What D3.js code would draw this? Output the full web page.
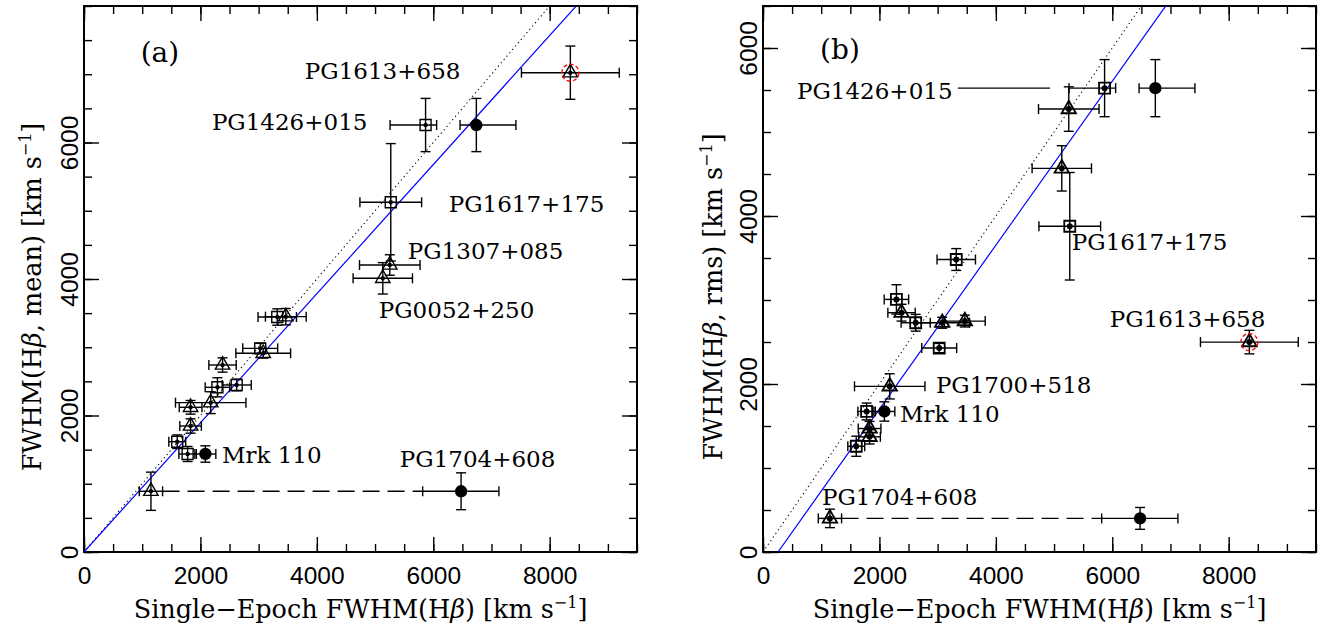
<!DOCTYPE html>
<html>
<head>
<meta charset="utf-8">
<script src="https://cdn.jsdelivr.net/npm/d3@7"></script>
<style>
  body { margin: 0; background: #fff; }
</style>
</head>
<body>
<svg id="chart" width="1324" height="631"></svg>
<script>
// single-epoch FWHM (x, shared by both panels) and its errors
var objX   = [3320, 3467, 3027, 3079, 2380, 2623, 2292, 2177, 1831, 1831, 1602, 1780, 2085, 1150, 6478, 8355, 5868, 6740, 5270, 5253, 5133];
var xErrLo = [330, 350, 300, 470, 235, 250, 210, 605, 195, 185, 145, 150, 180, 200, 660, 840, 610, 280, 530, 520, 510];
var xErrHi = [330, 350, 300, 470, 235, 250, 210, 605, 195, 185, 145, 150, 180, 200, 650, 840, 190, 680, 530, 520, 510];
var kind   = ["sq", "tri", "sq", "tri", "tri", "sq", "sq", "tri", "tri", "tri", "sq", "sq", "dot", "tri", "dot", "tri", "sq", "dot", "sq", "tri", "tri"];

// panel (a): mean spectrum FWHM
var meanY   = [3443, 3448, 2984, 2911, 2740, 2447, 2413, 2188, 2120, 1846, 1616, 1436, 1436, 890, 890, 7023, 6256, 6256, 5124, 4205, 4010];
var meanErr = [120, 120, 75, 70, 105, 85, 140, 160, 100, 105, 100, 110, 120, 280, 270, 390, 390, 390, 860, 150, 230];

// panel (b): rms spectrum FWHM
var rmsY   = [3482, 2749, 2428, 2729, 2849, 2729, 3007, 1972, 1470, 1371, 1259, 1673, 1673, 400, 400, 2499, 5522, 5522, 3878, 5273, 4567];
var rmsErr = [130, 70, 55, 65, 100, 100, 175, 150, 85, 85, 120, 100, 115, 110, 130, 140, 340, 340, 640, 265, 270];

var ringIdx = 15;            // PG1613+658, circled in red
var pairIdx = [13, 14];      // PG1704+608, joined with a dashed line

// labels (left edge x, middle y, in data units)
var labTextA = ["PG1613+658", "PG1426+015", "PG1617+175", "PG1307+085", "PG0052+250", "Mrk 110", "PG1704+608"];
var labXA    = [3794, 2197, 6266, 5562, 5064, 2369, 5425];
var labYA    = [7048, 6300, 5099, 4410, 3546, 1421, 1363];
var labTextB = ["PG1426+015", "PG1617+175", "PG1613+658", "PG1700+518", "Mrk 110", "PG1704+608"];
var labXB    = [584, 5305, 5957, 2970, 2352, 1013];
var labYB    = [5490, 3696, 2781, 1997, 1651, 653];

var xMajor = [0, 2000, 4000, 6000, 8000];
var yMajor = [0, 2000, 4000, 6000];
var xMax = 9500;

var svg = d3.select("#chart");
var serif = "'DejaVu Serif', serif";
var sans = "'Liberation Sans', Arial, sans-serif";

function drawPanel(p) {
  var x = d3.scaleLinear().domain([0, xMax]).range([p.left, p.right]);
  var y = d3.scaleLinear().domain([0, p.yMax]).range([p.bottom, p.top]);
  var g = svg.append("g");

  svg.append("clipPath").attr("id", "clip" + p.id)
    .append("rect")
    .attr("x", p.left).attr("y", p.top)
    .attr("width", p.right - p.left).attr("height", p.bottom - p.top);

  // ---- ticks on all four sides, pointing inwards
  function ticks(axis, tr, vals, n, len) {
    var a = axis.tickSizeInner(-len).tickSizeOuter(0).tickFormat("");
    if (vals) a.tickValues(vals); else a.ticks(n);
    var t = g.append("g").attr("transform", tr).call(a);
    t.select(".domain").remove();
    t.selectAll("line").attr("stroke", "#000").attr("stroke-width", 1.4);
    return t;
  }
  var nx = 19, ny = p.yMax / 500;
  ticks(d3.axisBottom(x), "translate(0," + p.bottom + ")", xMajor, 0, 15);
  ticks(d3.axisBottom(x), "translate(0," + p.bottom + ")", null, nx, 8);
  ticks(d3.axisTop(x), "translate(0," + p.top + ")", xMajor, 0, 15);
  ticks(d3.axisTop(x), "translate(0," + p.top + ")", null, nx, 8);
  ticks(d3.axisLeft(y), "translate(" + p.left + ",0)", yMajor, 0, 15);
  ticks(d3.axisLeft(y), "translate(" + p.left + ",0)", null, ny, 8);
  ticks(d3.axisRight(y), "translate(" + p.right + ",0)", yMajor, 0, 15);
  ticks(d3.axisRight(y), "translate(" + p.right + ",0)", null, ny, 8);

  // tick labels
  var bl = g.append("g").attr("transform", "translate(0," + p.bottom + ")")
    .call(d3.axisBottom(x).tickValues(xMajor).tickSize(0).tickPadding(15).tickFormat(d3.format("d")));
  bl.select(".domain").remove();
  bl.selectAll("text").attr("font-family", sans).attr("font-size", 24.5);

  var ll = g.append("g").attr("transform", "translate(" + p.left + ",0)")
    .call(d3.axisLeft(y).tickValues(yMajor).tickSize(0).tickFormat(d3.format("d")));
  ll.select(".domain").remove();
  ll.selectAll("text")
    .attr("font-family", sans).attr("font-size", 24.5)
    .attr("transform", "rotate(-90)")
    .attr("x", 0).attr("y", -6).attr("dy", 0)
    .attr("text-anchor", "middle");

  // frame
  g.append("rect")
    .attr("x", p.left).attr("y", p.top)
    .attr("width", p.right - p.left).attr("height", p.bottom - p.top)
    .attr("fill", "none").attr("stroke", "#000").attr("stroke-width", 2);

  // ---- reference lines
  var lines = g.append("g").attr("clip-path", "url(#clip" + p.id + ")");
  lines.append("line")
    .attr("x1", x(0)).attr("y1", y(0))
    .attr("x2", x(xMax)).attr("y2", y(xMax))
    .attr("stroke", "#000").attr("stroke-width", 1.1)
    .attr("stroke-dasharray", "1.2,3.2");
  lines.append("line")
    .attr("x1", x(p.fitX0)).attr("y1", y(0))
    .attr("x2", x(xMax)).attr("y2", y(p.fitSlope * (xMax - p.fitX0)))
    .attr("stroke", "#0000ff").attr("stroke-width", 1.2);

  var yv = p.yVals, ye = p.yErr;

  // PG1704+608 dashed connector
  g.append("line")
    .attr("x1", x(objX[pairIdx[0]] + xErrHi[pairIdx[0]])).attr("y1", y(yv[pairIdx[0]]))
    .attr("x2", x(objX[pairIdx[1]] - xErrLo[pairIdx[1]])).attr("y2", y(yv[pairIdx[1]]))
    .attr("stroke", "#000").attr("stroke-width", 1.3)
    .attr("stroke-dasharray", "17,8");

  if (p.leader) {
    g.append("line")
      .attr("x1", x(p.leader[0])).attr("x2", x(p.leader[1]))
      .attr("y1", y(p.leader[2])).attr("y2", y(p.leader[2]))
      .attr("stroke", "#000").attr("stroke-width", 1.3);
  }

  // ---- error bars
  var cap = 5;
  var eb = g.append("g").attr("stroke", "#000").attr("stroke-width", 1.4);
  objX.forEach(function (xv, i) {
    var cx = x(xv), cy = y(yv[i]);
    var xl = x(xv - xErrLo[i]), xr = x(xv + xErrHi[i]);
    var yt = y(yv[i] + ye[i]), yb = y(yv[i] - ye[i]);
    eb.append("line").attr("x1", xl).attr("x2", xr).attr("y1", cy).attr("y2", cy);
    eb.append("line").attr("x1", xl).attr("x2", xl).attr("y1", cy - cap).attr("y2", cy + cap);
    eb.append("line").attr("x1", xr).attr("x2", xr).attr("y1", cy - cap).attr("y2", cy + cap);
    eb.append("line").attr("x1", cx).attr("x2", cx).attr("y1", yt).attr("y2", yb);
    eb.append("line").attr("x1", cx - cap).attr("x2", cx + cap).attr("y1", yt).attr("y2", yt);
    eb.append("line").attr("x1", cx - cap).attr("x2", cx + cap).attr("y1", yb).attr("y2", yb);
  });

  // ---- markers
  var sqSym = d3.symbol(d3.symbolSquare, 121);
  var triSym = d3.symbol(d3.symbolTriangle, 90);
  var dotSym = d3.symbol(d3.symbolCircle, 120);
  var mk = g.append("g");
  objX.forEach(function (xv, i) {
    var tr = "translate(" + x(xv) + "," + y(yv[i]) + ")";
    if (kind[i] === "dot") {
      mk.append("path").attr("d", dotSym()).attr("transform", tr).attr("fill", "#000");
    } else {
      mk.append("path").attr("d", kind[i] === "sq" ? sqSym() : triSym())
        .attr("transform", tr)
        .attr("fill", "none").attr("stroke", "#000").attr("stroke-width", p.mkStroke);
      mk.append("circle").attr("cx", x(xv)).attr("cy", y(yv[i])).attr("r", p.mkDot).attr("fill", "#000");
    }
  });
  mk.append("circle")
    .attr("cx", x(objX[ringIdx])).attr("cy", y(yv[ringIdx])).attr("r", 8.5)
    .attr("fill", "none").attr("stroke", "#ff0000").attr("stroke-width", 1.3)
    .attr("stroke-dasharray", "4,2.5");

  // ---- object labels
  p.labText.forEach(function (t, i) {
    g.append("text")
      .attr("x", x(p.labX[i])).attr("y", y(p.labY[i])).attr("dy", "0.36em")
      .attr("font-family", serif).attr("font-size", 23)
      .text(t);
  });
  g.append("text")
    .attr("x", x(p.tagX)).attr("y", y(p.tagY)).attr("dy", "0.36em")
    .attr("text-anchor", "middle")
    .attr("font-family", serif).attr("font-size", 28)
    .text(p.tag);

  // ---- axis titles
  function title(t, pre, mid) {
    t.attr("font-family", serif).attr("font-size", 25.5).attr("text-anchor", "middle");
    t.append("tspan").text(pre);
    t.append("tspan").attr("font-style", "italic").text("\u03b2");
    t.append("tspan").text(mid + " [km s");
    t.append("tspan").attr("font-size", 16).attr("dy", -10).text("\u22121");
    t.append("tspan").attr("dy", 10).text("]");
  }
  title(g.append("text").attr("x", (p.left + p.right) / 2).attr("y", 618),
        "Single\u2212Epoch FWHM(H", ")");
  title(g.append("text")
          .attr("transform", "translate(" + p.yTitleX + ",297) rotate(-90)"),
        "FWHM(H", ", " + p.yName + ")");
}

drawPanel({
  id: "a", left: 84, right: 637, top: 6, bottom: 552, yMax: 8000,
  yVals: meanY, yErr: meanErr, fitSlope: 0.946, fitX0: 0,
  labText: labTextA, labX: labXA, labY: labYA,
  tag: "(a)", tagX: 1305, tagY: 7330, yTitleX: 41, yName: "mean",
  mkStroke: 1.4, mkDot: 2.2
});
drawPanel({
  id: "b", left: 763, right: 1316, top: 6, bottom: 552, yMax: 6500,
  yVals: rmsY, yErr: rmsErr, fitSlope: 0.976, fitX0: 258,
  labText: labTextB, labX: labXB, labY: labYB,
  tag: "(b)", tagX: 1322, tagY: 5990, yTitleX: 722, yName: "rms",
  leader: [3348, 4930, 5522],
  mkStroke: 1.8, mkDot: 3
});
</script>
</body>
</html>
